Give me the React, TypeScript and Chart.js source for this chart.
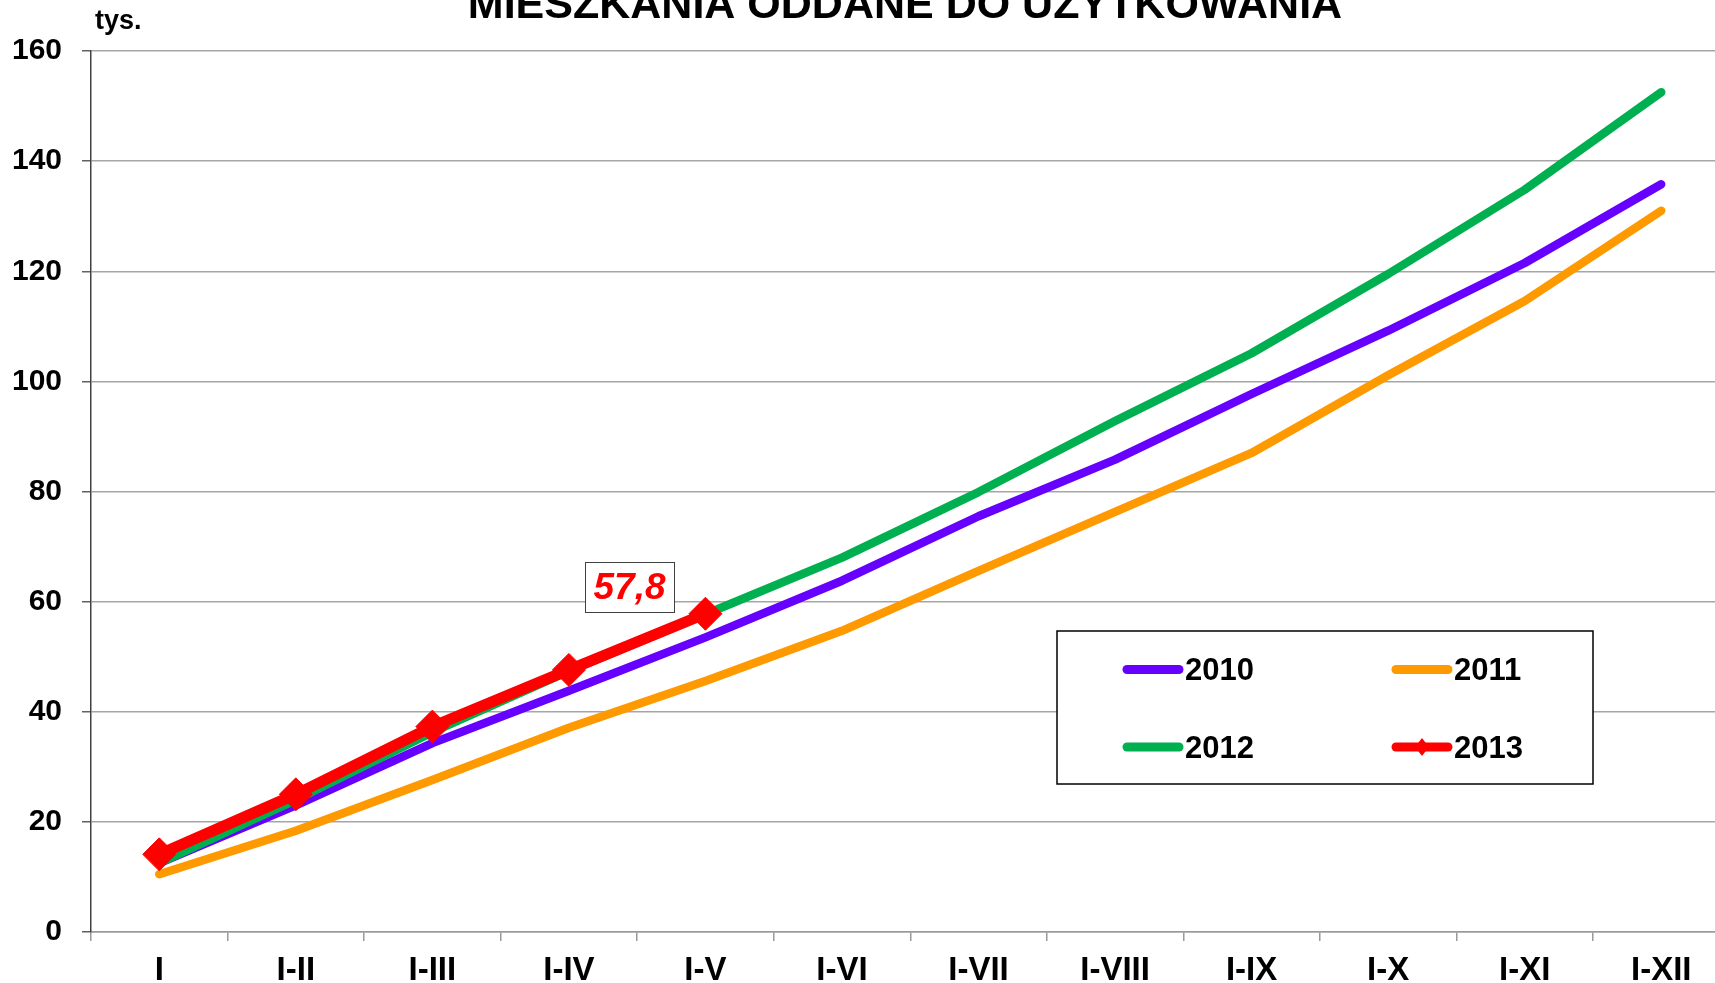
import React, { useEffect, useRef } from 'react';
import { Chart, registerables } from 'chart.js';

Chart.register(...registerables);

const FONT = '"Liberation Sans", Arial, Helvetica, sans-serif';

const chartTitle = 'MIESZKANIA ODDANE DO UŻYTKOWANIA';
const unitLabel = 'tys.';
const categories = ['I', 'I-II', 'I-III', 'I-IV', 'I-V', 'I-VI', 'I-VII', 'I-VIII', 'I-IX', 'I-X', 'I-XI', 'I-XII'];
const seriesNames = ['2010', '2011', '2012', '2013'];
const seriesColors = ['#6600FF', '#FF9900', '#00B050', '#FF0000'];
const values2010 = [12.5, 23.0, 34.3, 43.8, 53.5, 63.8, 75.5, 85.8, 97.7, 109.2, 121.5, 135.8];
const values2011 = [10.5, 18.4, 27.6, 37.1, 45.6, 54.7, 65.6, 76.3, 87.0, 101.1, 114.6, 131.0];
const values2012 = [12.5, 24.0, 36.3, 47.4, 57.7, 68.0, 79.9, 92.8, 105.1, 119.5, 134.8, 152.5];
const values2013 = [14.1, 25.0, 37.3, 47.6, 57.8];
const yMin = 0;
const yMax = 160;
const yStep = 20;
const highlightIndex = 4;

const overlayPlugin = {
  id: 'overlay',
  afterDraw(chart: any) {
    const ctx = chart.ctx as CanvasRenderingContext2D;
    ctx.save();
    // title
    ctx.fillStyle = '#000';
    ctx.font = `bold 43px ${FONT}`;
    ctx.textAlign = 'center';
    ctx.textBaseline = 'alphabetic';
    ctx.fillText(chartTitle, 905, 17.5);
    // unit
    ctx.font = `bold 27px ${FONT}`;
    ctx.textAlign = 'left';
    ctx.fillText(unitLabel, 95, 29);

    // data label for last 2013 point
    const meta = chart.getDatasetMeta(3);
    const pt = meta.data[highlightIndex];
    if (pt) {
      const bw = 89, bh = 50;
      const bx = Math.round(pt.x - 120), by = Math.round(pt.y - 52);
      ctx.fillStyle = '#fff';
      ctx.fillRect(bx, by, bw, bh);
      ctx.strokeStyle = '#404040';
      ctx.lineWidth = 1;
      ctx.strokeRect(bx + 0.5, by + 0.5, bw, bh);
      ctx.fillStyle = '#FF0000';
      ctx.font = `italic bold 37px ${FONT}`;
      ctx.textAlign = 'center';
      ctx.textBaseline = 'middle';
      ctx.fillText(values2013[highlightIndex].toFixed(1).replace('.', ','), bx + bw / 2, by + bh / 2 + 2);
    }

    // legend
    const lx = 1057, ly = 631, lw = 536, lh = 153;
    ctx.fillStyle = '#fff';
    ctx.fillRect(lx, ly, lw, lh);
    ctx.strokeStyle = '#000';
    ctx.lineWidth = 1.5;
    ctx.strokeRect(lx, ly, lw, lh);
    const ds = chart.data.datasets;
    ds.forEach((d: any, i: number) => {
      const col = i % 2, row = Math.floor(i / 2);
      const sx = 1127 + col * 269;
      const sy = 669.5 + row * 77.5;
      ctx.strokeStyle = d.borderColor;
      ctx.lineWidth = 9;
      ctx.lineCap = 'round';
      ctx.beginPath();
      ctx.moveTo(sx, sy);
      ctx.lineTo(sx + 52, sy);
      ctx.stroke();
      if (d.pointRadius > 0) {
        const cx = sx + 26;
        ctx.fillStyle = d.borderColor;
        ctx.beginPath();
        ctx.moveTo(cx - 7, sy);
        ctx.lineTo(cx, sy - 9);
        ctx.lineTo(cx + 7, sy);
        ctx.lineTo(cx, sy + 9);
        ctx.closePath();
        ctx.fill();
      }
      ctx.fillStyle = '#000';
      ctx.font = `bold 31px ${FONT}`;
      ctx.textAlign = 'left';
      ctx.textBaseline = 'middle';
      ctx.fillText(d.label, sx + 58, sy + 2);
    });
    ctx.restore();
  },
};

export default function App() {
  const ref = useRef<HTMLCanvasElement | null>(null);
  useEffect(() => {
    document.body.style.margin = '0';
    const canvas = ref.current;
    if (!canvas) return;
    const allValues = [values2010, values2011, values2012, values2013];
    const orders = [2, 3, 1, 0];
    const chart = new Chart(canvas, {
      type: 'line',
      data: {
        labels: categories,
        datasets: seriesNames.map((name, i) => ({
          label: name,
          data: allValues[i],
          borderColor: seriesColors[i],
          backgroundColor: seriesColors[i],
          borderWidth: i === 3 ? 11 : 8.5,
          pointRadius: i === 3 ? 16.5 : 0,
          pointHoverRadius: i === 3 ? 16.5 : 0,
          pointStyle: 'rectRot',
          pointBorderWidth: 1,
          pointBorderColor: seriesColors[i],
          pointBackgroundColor: seriesColors[i],
          tension: 0,
          fill: false,
          order: orders[i],
          borderJoinStyle: 'round',
          borderCapStyle: 'round',
        })),
      },
      options: {
        responsive: false,
        animation: false,
        events: [],
        layout: { padding: { top: 51, left: 0, right: 0, bottom: 0 } },
        plugins: {
          legend: { display: false },
          title: { display: false },
          tooltip: { enabled: false },
        },
        scales: {
          x: {
            type: 'category',
            offset: true,
            grid: {
              drawOnChartArea: false,
              offset: true,
              drawTicks: true,
              tickLength: 9,
              color: '#9a9a9a',
              lineWidth: 1.5,
            },
            border: { display: true, color: '#9a9a9a', width: 1.5 },
            ticks: {
              color: '#000',
              font: { family: FONT, size: 33, weight: 'bold' },
              padding: 10,
              maxRotation: 0,
              autoSkip: false,
            },
            afterFit(scale: any) {
              scale.height = 51;
            },
          },
          y: {
            min: yMin,
            max: yMax,
            ticks: {
              stepSize: yStep,
              color: '#000',
              font: { family: FONT, size: 30, weight: 'bold' },
              padding: 20,
            },
            grid: {
              color: '#a6a6a6',
              lineWidth: 1.5,
              tickLength: 9,
              tickColor: '#606060',
            },
            border: { display: true, color: '#404040', width: 1.5 },
            afterFit(scale: any) {
              scale.width = 91;
            },
          },
        },
      },
      plugins: [overlayPlugin],
    } as any);
    return () => chart.destroy();
  }, []);
  return (
    <div style={{ position: 'fixed', left: 0, top: 0, width: 1715, height: 983, overflow: 'hidden', background: '#fff' }}>
      <canvas ref={ref} width={1747} height={983} style={{ display: 'block' }} />
    </div>
  );
}
